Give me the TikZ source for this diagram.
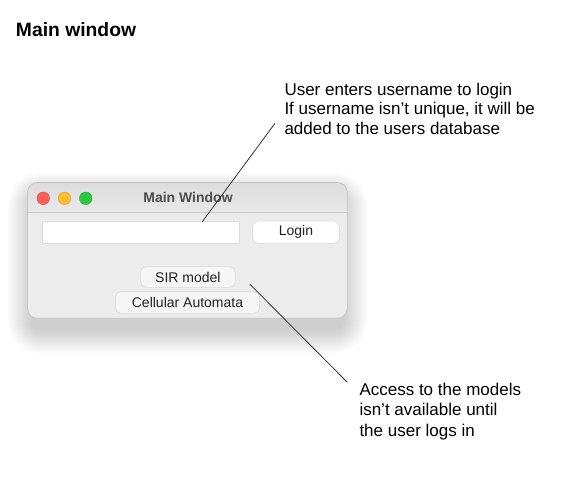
\documentclass[tikz,border=0pt]{standalone}
\usepackage{fontspec}
\setmainfont{Liberation Sans}
\newlength{\du}
\setlength{\du}{1pt}
\definecolor{winbody}{HTML}{ECECEC}
\definecolor{winborder}{HTML}{C4C4C4}
\definecolor{bartop}{HTML}{E9E9E9}
\definecolor{barbottom}{HTML}{DCDCDC}
\definecolor{sepline}{HTML}{CDCDCD}
\definecolor{lightred}{HTML}{FF5F57}
\definecolor{lightyellow}{HTML}{FEBC2E}
\definecolor{lightgreen}{HTML}{28C840}
\definecolor{btnfill}{HTML}{F6F6F6}
\definecolor{btnline}{HTML}{DADADA}
\definecolor{btntext}{HTML}{222222}
\definecolor{titletext}{HTML}{4D4D4D}
\definecolor{notelinecolor}{HTML}{333333}
\tikzset{
  notetext/.style={anchor=base west,inner sep=0pt,outer sep=0pt,font=\fontsize{17}{20}\selectfont},
  wbutton/.style={draw=btnline,fill=btnfill,rounded corners=5\du,line width=0.6\du,inner sep=0pt,font=\fontsize{14}{16}\selectfont,text=btntext},
  trafficlight/.style={circle,inner sep=0pt,minimum size=12.6\du,line width=0.4\du},
  noteline/.style={draw=notelinecolor,line width=0.8\du}
}

\begin{document}
\begin{tikzpicture}[even odd rule]
\pgftransformxscale{1.000000}
\pgftransformyscale{-1.000000}
\useasboundingbox (0\du,0\du) rectangle (569\du,491\du);
\fill[white] (0\du,0\du) rectangle (569\du,491\du);
% heading
\node[anchor=base west,inner sep=0pt,outer sep=0pt,font=\bfseries\fontsize{19.3}{22}\selectfont] (heading) at (16\du,36\du){Main window};
% shadow of the window
\foreach \i in {1,...,24}{
  \pgfmathsetmacro{\shl}{31.5-\i}
  \pgfmathsetmacro{\sht}{196-\i}
  \pgfmathsetmacro{\shr}{343.3+\i}
  \pgfmathsetmacro{\shb}{330+\i}
  \pgfmathsetmacro{\shc}{10+\i}
  \fill[black,opacity=0.009,rounded corners=\shc\du] (\shl\du,\sht\du) rectangle (\shr\du,\shb\du);
}
% window body
\fill[winbody,rounded corners=10\du] (27.5\du,182.5\du) rectangle (347.3\du,318.3\du);
\begin{scope}
\clip[rounded corners=10\du] (27.5\du,182.5\du) rectangle (347.3\du,318.3\du);
\shade[top color=barbottom,bottom color=bartop] (27.5\du,182.5\du) rectangle (347.3\du,212\du);
\end{scope}
\draw[sepline,line width=0.7\du] (27.5\du,212\du)--(347.3\du,212\du);
\draw[winborder,line width=0.7\du,rounded corners=10\du] (27.5\du,182.5\du) rectangle (347.3\du,318.3\du);
% title bar
\node[trafficlight,fill=lightred,draw=lightred!85!black] (closebtn) at (43.3\du,198.3\du){};
\node[trafficlight,fill=lightyellow,draw=lightyellow!85!black] (minbtn) at (64.5\du,198.3\du){};
\node[trafficlight,fill=lightgreen,draw=lightgreen!85!black] (zoombtn) at (85.7\du,198.3\du){};
\node[anchor=base,inner sep=0pt,outer sep=0pt,text=titletext,font=\bfseries\fontsize{14}{16}\selectfont] (wintitle) at (188\du,202.7\du){Main Window};
% widgets
\node[draw=btnline,fill=white,line width=0.6\du,minimum width=196.3\du,minimum height=21.6\du,inner sep=0pt] (userfield) at (140.9\du,232.5\du){};
\node[wbutton,fill=white,minimum width=86.6\du,minimum height=22.3\du] (login) at (296\du,232.2\du){Login};
\node[wbutton,minimum width=94.3\du,minimum height=20.6\du] (sirbtn) at (187.9\du,277\du){SIR model};
\node[wbutton,minimum width=143.6\du,minimum height=21.6\du] (cabtn) at (187.5\du,302.5\du){Cellular Automata};
% notes
\node[notetext] (notea1) at (284.5\du,95\du){User enters username to login};
\node[notetext] (notea2) at (284.5\du,114.5\du){If username isn’t unique, it will be};
\node[notetext] (notea3) at (284.5\du,134\du){added to the users database};
\node[notetext] (noteb1) at (359.5\du,395.7\du){Access to the models};
\node[notetext] (noteb2) at (359.5\du,415.9\du){isn’t available until};
\node[notetext] (noteb3) at (359.5\du,436\du){the user logs in};
\coordinate (fieldpoint) at (202.3\du,221.7\du);
\coordinate (noteapoint) at (275\du,123.3\du);
\coordinate (modelpoint) at (250\du,284.3\du);
\coordinate (notebpoint) at (347.3\du,382.3\du);
\draw[noteline] (fieldpoint)--(noteapoint);
\draw[noteline] (modelpoint)--(notebpoint);
\end{tikzpicture}
\end{document}
